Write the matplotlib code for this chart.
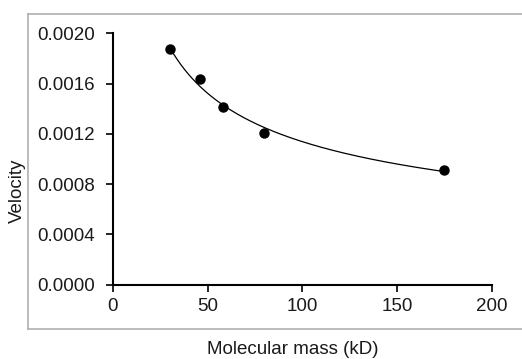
import numpy as np
import matplotlib
matplotlib.use("Agg")
import matplotlib.pyplot as plt
from matplotlib.lines import Line2D
from matplotlib.ticker import FormatStrFormatter

plt.rcParams['font.family'] = ['Liberation Sans', 'DejaVu Sans']

mass_kD = [30, 46, 58, 80, 175]
velocity = [0.001876, 0.001635, 0.001414, 0.001207, 0.000912]
x_ticks = [0, 50, 100, 150, 200]
y_ticks = [0.0, 0.0004, 0.0008, 0.0012, 0.0016, 0.0020]

W, H = 522, 359
fig = plt.figure(figsize=(W / 100, H / 100), dpi=100)
ax = fig.add_axes([113 / W, 1 - 284.5 / H, (491.7 - 113) / W, (284.5 - 33.3) / H])

# power-law trendline fitted to the data
b, ln_a = np.polyfit(np.log(mass_kD), np.log(velocity), 1)
xs = np.linspace(min(mass_kD), max(mass_kD), 300)
ax.plot(xs, np.exp(ln_a) * xs ** b, color='black', lw=0.9, zorder=2)
ax.plot(mass_kD, velocity, 'o', color='black', ms=6.5, zorder=3, clip_on=False)

ax.set_xlim(0, 200)
ax.set_ylim(0, 0.002)
ax.set_xticks(x_ticks)
ax.set_yticks(y_ticks)
ax.yaxis.set_major_formatter(FormatStrFormatter('%.4f'))
for s in ['top', 'right']:
    ax.spines[s].set_visible(False)
for s in ['left', 'bottom']:
    ax.spines[s].set_linewidth(1.5)
    ax.spines[s].set_color('black')
ax.tick_params(axis='both', direction='out', length=5, width=1.2, color='black',
               labelsize=13.5, labelcolor='#1a1a1a')
ax.tick_params(axis='y', pad=8)
ax.tick_params(axis='x', pad=5)

# outer chart-area frame (light gray, top/left/bottom)
fc = '#b0b0b0'
x0, x1 = 27.5 / W, 1.02
y0, y1 = 1 - 328.5 / H, 1 - 13.5 / H
for xd, yd in [([x0, x1], [y1, y1]), ([x0, x0], [y0, y1]), ([x0, x1], [y0, y0])]:
    fig.add_artist(Line2D(xd, yd, transform=fig.transFigure, color=fc, lw=1.2))

fig.text(17 / W, 1 - 191 / H, 'Velocity', rotation=90, ha='center', va='center',
         fontsize=13.5, color='#1a1a1a')
fig.text(293 / W, 1 - 349 / H, 'Molecular mass (kD)', ha='center', va='center',
         fontsize=13.5, color='#1a1a1a')

fig.savefig('out.png', dpi=100)
